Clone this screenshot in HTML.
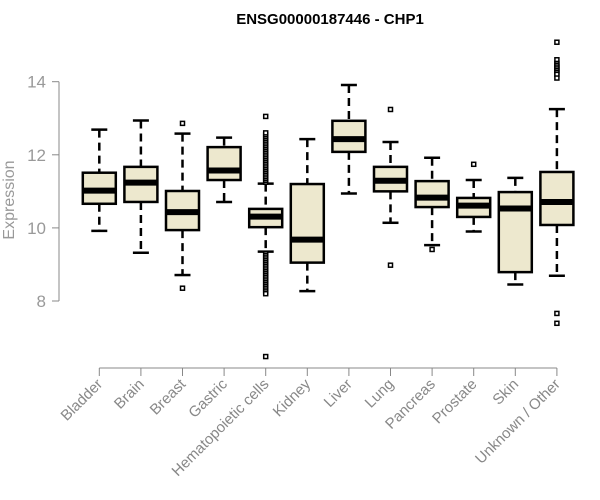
<!DOCTYPE html>
<html><head><meta charset="utf-8"><style>
body{margin:0;background:#fff}
svg{display:block;font-family:"Liberation Sans",sans-serif}
</style></head><body>
<svg id="c" width="600" height="500">
<text x="330" y="24" text-anchor="middle" font-weight="bold" font-size="15">ENSG00000187446 - CHP1</text>
<text transform="translate(14,200) rotate(-90)" text-anchor="middle" font-size="16" fill="#999">Expression</text>
</svg>
<script>
const categories=["Bladder","Brain","Breast","Gastric","Hematopoietic cells","Kidney","Liver","Lung","Pancreas","Prostate","Skin","Unknown / Other"];
const whiskerLow=[9.92,9.32,8.71,10.71,9.35,8.27,10.94,10.14,9.53,9.9,8.45,8.69];
const q1=[10.66,10.71,9.94,11.31,10.02,9.05,12.08,11.0,10.57,10.30,8.79,10.08];
const medians=[11.02,11.24,10.43,11.57,10.31,9.68,12.43,11.29,10.83,10.61,10.53,10.71];
const q3=[11.51,11.67,11.01,12.21,10.52,11.2,12.93,11.67,11.28,10.82,10.98,11.53];
const whiskerHigh=[12.69,12.94,12.58,12.47,11.21,12.43,13.91,12.35,11.92,11.31,11.37,13.25];
const outliers=[[],[],[12.86,8.35],[],
[11.25,11.3,11.35,11.4,11.45,11.5,11.55,11.6,11.65,11.7,11.75,11.8,11.85,11.9,11.95,12.0,12.05,12.1,12.15,12.2,12.25,12.3,12.35,12.4,12.45,12.5,12.55,12.6,13.05,
9.3,9.25,9.2,9.15,9.1,9.05,9.0,8.95,8.9,8.85,8.8,8.75,8.7,8.65,8.6,8.55,8.5,8.45,8.4,8.35,8.3,8.25,8.2,6.48],
[],[],[13.24,8.98],[9.41],[11.74],[],[15.08,14.6,14.5,14.45,14.4,14.35,14.3,14.25,14.2,14.1,7.66,7.39]];
const yTicks=[8,10,12,14];
const NS="http://www.w3.org/2000/svg";
const svg=document.getElementById('c');
const y=v=>301-(v-8)*36.55;
const x=i=>99.3+i*41.6;
function el(t,a){const e=document.createElementNS(NS,t);for(const k in a)e.setAttribute(k,a[k]);svg.appendChild(e);return e;}
let ax=el('line',{x1:59,x2:59,y1:y(14),y2:y(8),stroke:'#888'});


yTicks.forEach(t=>{
 const l=el('line',{x1:52,x2:59,y1:y(t),y2:y(t),stroke:'#888'});
 
 
 const tx=el('text',{x:46,y:y(t)+6,'text-anchor':'end','font-size':17,fill:'#999'});
 tx.textContent=t;
 
 
});
const xa=el('line',{x1:x(0),x2:x(categories.length-1),y1:368,y2:368,stroke:'#888'});


categories.forEach((c,i)=>{
 const cx=x(i),w=16.5;
 const t=el('line',{x1:cx,x2:cx,y1:368,y2:376,stroke:'#888'});
 
 
 const lb=el('text',{x:0,y:0,'text-anchor':'end','font-size':15,fill:'#888',transform:`translate(${cx+4},${385}) rotate(-45)`});
 lb.textContent=c;
 
 
 const g=el('g',{});
 
 
 const add=(t,a)=>{const e=document.createElementNS(NS,t);for(const k in a)e.setAttribute(k,a[k]);g.appendChild(e);return e;};
 add('line',{x1:cx,x2:cx,y1:y(whiskerHigh[i]),y2:y(q3[i]),stroke:'#000','stroke-width':2.5,'stroke-dasharray':'8,5'});
 add('line',{x1:cx,x2:cx,y1:y(q1[i]),y2:y(whiskerLow[i]),stroke:'#000','stroke-width':2.5,'stroke-dasharray':'8,5'});
 add('line',{x1:cx-8,x2:cx+8,y1:y(whiskerHigh[i]),y2:y(whiskerHigh[i]),stroke:'#000','stroke-width':2.5});
 add('line',{x1:cx-8,x2:cx+8,y1:y(whiskerLow[i]),y2:y(whiskerLow[i]),stroke:'#000','stroke-width':2.5});
 add('rect',{x:cx-w,y:y(q3[i]),width:2*w,height:y(q1[i])-y(q3[i]),fill:'#EDE8CE',stroke:'#000','stroke-width':2.5});
 add('line',{x1:cx-w,x2:cx+w,y1:y(medians[i]),y2:y(medians[i]),stroke:'#000','stroke-width':6});
 outliers[i].forEach(v=>{
  const o=add('rect',{x:cx-2,y:y(v)-2,width:4,height:4,fill:'#fff',stroke:'#000','stroke-width':1.5});
  
  
 });
});
</script>
</body></html>
